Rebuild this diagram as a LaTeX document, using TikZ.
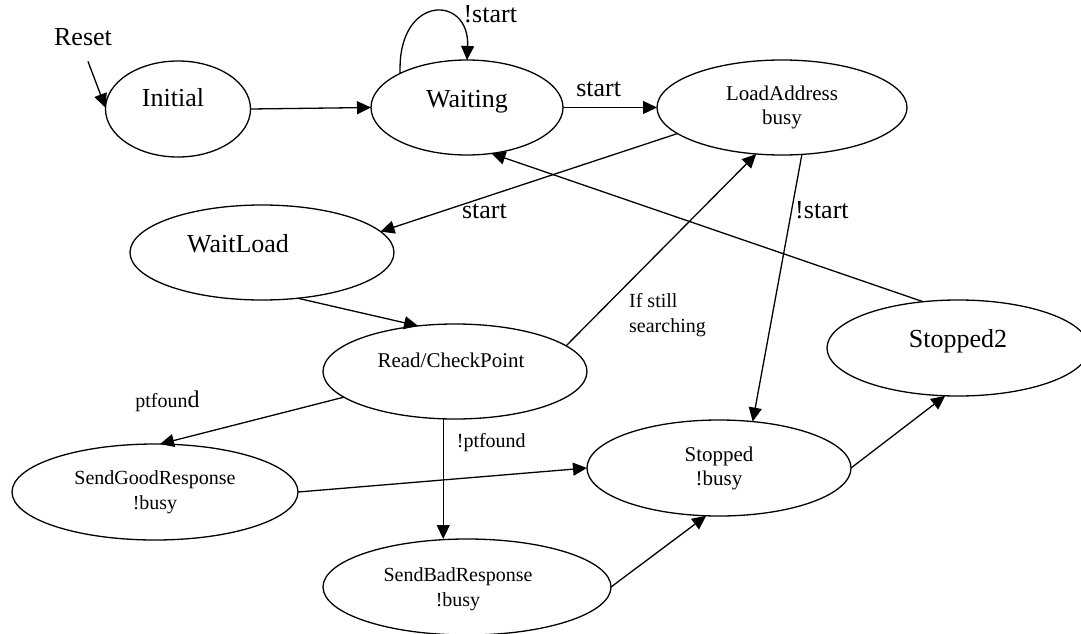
\documentclass[tikz,border=0pt]{standalone}
\usepackage{fontspec}
\setmainfont{Liberation Serif}
\usetikzlibrary{shapes.geometric, arrows.meta}

\begin{document}
\begin{tikzpicture}[
    x=1pt, y=-1pt,
    line width=1.3pt,
    state/.style={ellipse, draw=black, inner sep=0pt, outer sep=0pt, minimum height=96pt},
    big/.style={font=\fontsize{26}{28}\selectfont, inner sep=2pt},
    mid/.style={font=\fontsize{21}{24}\selectfont, inner sep=2pt, align=center},
    small/.style={font=\fontsize{20}{25}\selectfont, inner sep=2pt, align=center},
    arrow/.style={-{Triangle[length=14pt, width=13pt]}}
]

\useasboundingbox (0,0) rectangle (1081,634);

\node (reset) [big] at (83,37) {Reset};
\node (init) [state, minimum width=145pt, label={[big, xshift=-5pt, yshift=11pt]center:Initial}] at (178,109) {};
\node (wait) [state, minimum width=192pt, minimum height=95pt, label={[big, yshift=6pt]center:Waiting}] at (467,107.5) {};
\node (load) [state, minimum width=250pt, minimum height=95pt, label={[mid]center:LoadAddress\\busy}] at (782,107.5) {};
\node (waitld) [state, minimum width=264pt, minimum height=95pt, label={[big, xshift=-24pt, yshift=9pt]center:WaitLoad}] at (262,252.5) {};
\node (read) [state, minimum width=264pt, minimum height=95pt, label={[mid, xshift=-4pt, yshift=11pt]center:Read/CheckPoint}] at (455,371.5) {};
\node (stop2) [state, minimum width=262pt, label={[big, yshift=7pt]center:Stopped2}] at (958,348) {};
\node (good) [state, minimum width=286pt, label={[small]center:SendGoodResponse\\!busy}] at (155,492) {};
\node (stop) [state, minimum width=264pt, label={[mid]center:Stopped\\!busy}] at (719,468) {};
\node (bad) [state, minimum width=288pt, label={[small, xshift=-9pt, yshift=-2pt]center:SendBadResponse\\!busy}] at (467,587) {};

\draw [arrow, shorten <=14pt] (reset.south) -- (init.179);
\draw [arrow] (init.east) -- (wait.west);
\draw [arrow] (wait.153) .. controls (397,-6) and (470,-6) .. node[big, pos=.8, anchor=south west, yshift=3pt] {!start} (wait.90);
\draw [arrow] (wait.east) -- node[big, pos=.38, above=8pt] {start} (load.west);
\draw [arrow] (load.194) -- node[big, pos=.65, below=4pt] {start} (waitld.10);
\draw [arrow] (waitld.-52) -- (read.129);
\draw [arrow] (read.13) -- node[small, pos=.16, right=30pt, align=left] {If still\\searching} (load.241);
\draw [arrow] (load.-67) -- node[big, pos=.21, right=1pt] {!start} (stop.54);
\draw [arrow] (stop2.127) -- (wait.-62);
\draw [arrow] (read.193) -- node[small, pos=.96, above=28pt] {ptfoun{\fontsize{24}{25}\selectfont d}} (good.84);
\draw [arrow] (read.-104) -- node[small, pos=.2, right=11pt] {!ptfound} (read.-104 |- bad.north);
\draw [arrow] (good.east) -- (stop.west);
\draw [arrow] (bad.east) -- (stop.-105);
\draw [arrow] (stop.east) -- (stop2.-105);

\end{tikzpicture}
\end{document}
